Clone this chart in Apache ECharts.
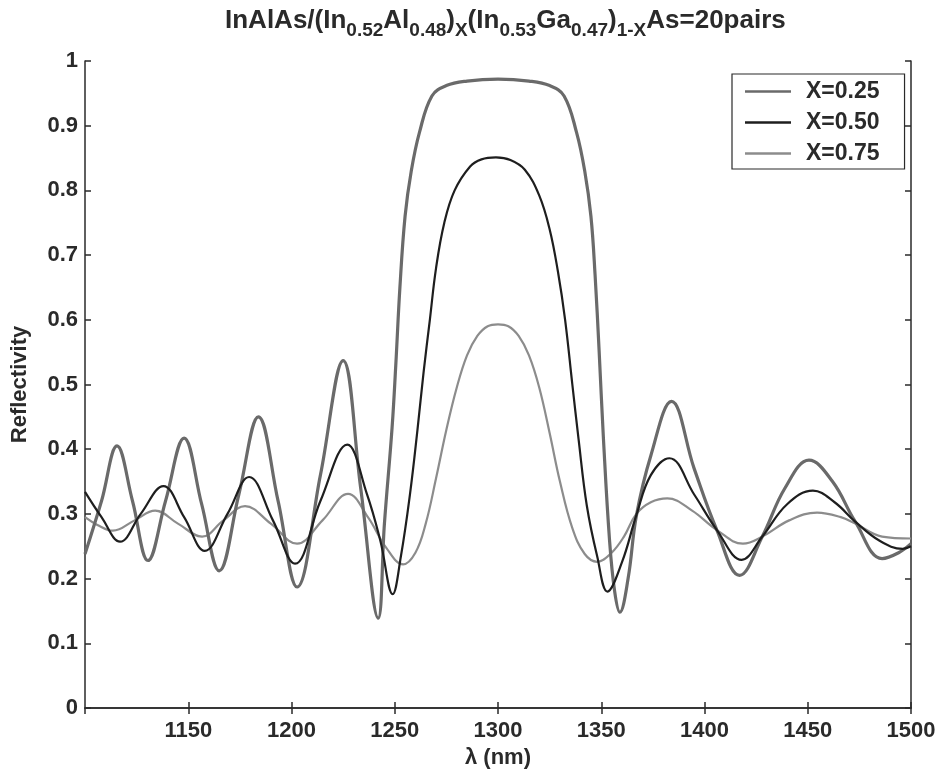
<!DOCTYPE html>
<html>
<head>
<meta charset="utf-8">
<script src="https://cdn.jsdelivr.net/npm/echarts@6/dist/echarts.min.js"></script>
<style>
html,body{margin:0;padding:0;background:#fff;}
#chart{width:945px;height:778px;}
</style>
</head>
<body>
<div id="chart"></div>
<script>
// wavelengths (nm) and reflectivity
const lam025 = [1100,1108,1115.5,1123,1130.5,1139,1148,1156.5,1165,1174.5,1184,1193.5,1202.7,1214,1225,1233.5,1242,1245,1248.7,1250.5,1252.5,1255,1258,1262,1268,1275,1285,1300,1315,1325,1332,1338,1342,1345,1347,1349,1351,1354,1356.5,1359,1363,1367,1374,1384,1395,1406,1417,1428,1439,1450.6,1462,1473,1486,1494,1500];
const r025   = [0.238,0.32,0.405,0.32,0.228,0.32,0.417,0.315,0.212,0.33,0.45,0.32,0.187,0.36,0.537,0.34,0.139,0.285,0.433,0.53,0.65,0.76,0.83,0.89,0.946,0.962,0.969,0.972,0.969,0.962,0.946,0.89,0.83,0.76,0.67,0.55,0.42,0.26,0.18,0.148,0.2,0.297,0.39,0.474,0.37,0.275,0.205,0.265,0.34,0.383,0.35,0.288,0.231,0.24,0.254];

const lam050 = [1100,1108,1117,1127,1138,1148,1158,1169,1179.5,1191,1201.7,1214,1227,1236.5,1243,1249,1253,1257.4,1261,1264,1267,1270,1274,1279,1286.5,1292,1299,1306,1313,1320,1325,1329,1332.5,1336,1339,1343,1348,1353,1360,1367,1374,1383,1395,1406,1418,1428,1440,1452.5,1463,1473,1485,1496,1500];
const r050   = [0.334,0.295,0.257,0.30,0.343,0.295,0.243,0.30,0.357,0.29,0.223,0.32,0.407,0.331,0.259,0.176,0.235,0.331,0.43,0.52,0.60,0.68,0.75,0.80,0.837,0.848,0.851,0.847,0.832,0.792,0.74,0.675,0.60,0.50,0.416,0.313,0.235,0.18,0.225,0.298,0.36,0.386,0.33,0.275,0.229,0.265,0.315,0.336,0.318,0.288,0.258,0.246,0.25];

const lam075 = [1100,1106,1113.5,1124,1134,1145,1156.7,1167,1177.5,1190,1202.7,1215,1227.4,1237,1246,1254,1260,1265,1270,1275,1280,1285,1290,1295,1300,1305,1310,1315,1320,1325,1330,1336,1342,1348,1355,1361,1367,1374,1382,1394,1406,1418.6,1428,1441,1454.5,1466,1473,1486,1500];
const r075   = [0.295,0.283,0.274,0.29,0.305,0.285,0.265,0.29,0.312,0.285,0.254,0.29,0.331,0.295,0.247,0.222,0.24,0.285,0.355,0.43,0.495,0.545,0.575,0.59,0.593,0.59,0.575,0.545,0.495,0.425,0.35,0.278,0.238,0.226,0.24,0.265,0.30,0.318,0.324,0.305,0.275,0.254,0.265,0.29,0.302,0.295,0.285,0.265,0.262];

const seriesNames = ['X=0.25','X=0.50','X=0.75'];
const xTickMin = 1100, xTickMax = 1500, xTickStep = 50;
const yTickMin = 0, yTickMax = 1, yTickStep = 0.1;

const zip = (a,b) => a.map((v,i)=>[v,b[i]]);
const FONT = '"Liberation Sans", Arial, sans-serif';
const INK = '#2a2a2a';

const chart = echarts.init(document.getElementById('chart'), null, {renderer:'canvas'});
const axisLine = {show:true, lineStyle:{color:INK, width:1.5}};
const axisTick = {show:true, inside:true, length:6, lineStyle:{color:INK, width:1.5}};

chart.setOption({
  backgroundColor:'#ffffff',
  animation:false,
  title:{
    text:'{m|InAlAs/(In}{s|0.52}{m|Al}{s|0.48}{m|)}{s|X}{m|(In}{s|0.53}{m|Ga}{s|0.47}{m|)}{s|1-X}{m|As=20pairs}',
    left:220, top:3,
    textStyle:{
      rich:{
        m:{fontFamily:FONT, fontWeight:'bold', fontSize:26, color:INK, lineHeight:30, verticalAlign:'top'},
        s:{fontFamily:FONT, fontWeight:'bold', fontSize:19, color:INK, lineHeight:21, padding:[13,0,0,0], verticalAlign:'top'}
      }
    }
  },
  legend:{
    orient:'vertical', left:732, top:74,
    backgroundColor:'#ffffff', borderColor:INK, borderWidth:1.2,
    padding:[6,25,4,13], itemGap:8, itemWidth:46, itemHeight:2.5,
    textStyle:{fontFamily:FONT, fontWeight:'bold', fontSize:23, color:INK, padding:[0,0,0,10], lineHeight:21},
    data:[
      {name:seriesNames[0], icon:'rect', itemStyle:{color:'#6a6a6a'}},
      {name:seriesNames[1], icon:'rect', itemStyle:{color:'#1e1e1e'}},
      {name:seriesNames[2], icon:'rect', itemStyle:{color:'#8c8c8c'}}
    ]
  },
  grid:{left:85, right:34, top:61, bottom:70},
  xAxis:[
    {type:'value', min:xTickMin, max:xTickMax, interval:xTickStep, position:'bottom',
     name:'λ (nm)', nameLocation:'middle', nameGap:31,
     nameTextStyle:{fontFamily:FONT, fontWeight:'bold', fontSize:22, color:INK},
     axisLine, axisTick, splitLine:{show:false},
     axisLabel:{showMinLabel:false, margin:12, fontFamily:FONT, fontWeight:'bold', fontSize:22, color:INK,
       formatter:v => String(Math.round(v))}},
    {type:'value', min:xTickMin, max:xTickMax, interval:xTickStep, position:'top',
     axisLine, axisTick, splitLine:{show:false}, axisLabel:{show:false}}
  ],
  yAxis:[
    {type:'value', min:yTickMin, max:yTickMax, interval:yTickStep, position:'left',
     name:'Reflectivity', nameLocation:'middle', nameGap:54, nameRotate:90,
     nameTextStyle:{fontFamily:FONT, fontWeight:'bold', fontSize:22, color:INK},
     axisLine, axisTick, splitLine:{show:false},
     axisLabel:{margin:7, fontFamily:FONT, fontWeight:'bold', fontSize:22, color:INK,
       formatter:v => (Math.abs(v)<1e-9 ? '0' : Math.abs(v-1)<1e-9 ? '1' : v.toFixed(1))}},
    {type:'value', min:yTickMin, max:yTickMax, interval:yTickStep, position:'right',
     axisLine, axisTick, splitLine:{show:false}, axisLabel:{show:false}}
  ],
  series:[
    {name:seriesNames[0], type:'line', data:zip(lam025,r025), smooth:0.4, showSymbol:false, symbol:'none',
     lineStyle:{color:'#6a6a6a', width:3.2}, itemStyle:{color:'#6a6a6a'}, z:3},
    {name:seriesNames[1], type:'line', data:zip(lam050,r050), smooth:0.4, showSymbol:false, symbol:'none',
     lineStyle:{color:'#1e1e1e', width:2.2}, itemStyle:{color:'#1e1e1e'}, z:4},
    {name:seriesNames[2], type:'line', data:zip(lam075,r075), smooth:0.4, showSymbol:false, symbol:'none',
     lineStyle:{color:'#8c8c8c', width:2.2}, itemStyle:{color:'#8c8c8c'}, z:2}
  ]
});
</script>
</body>
</html>
